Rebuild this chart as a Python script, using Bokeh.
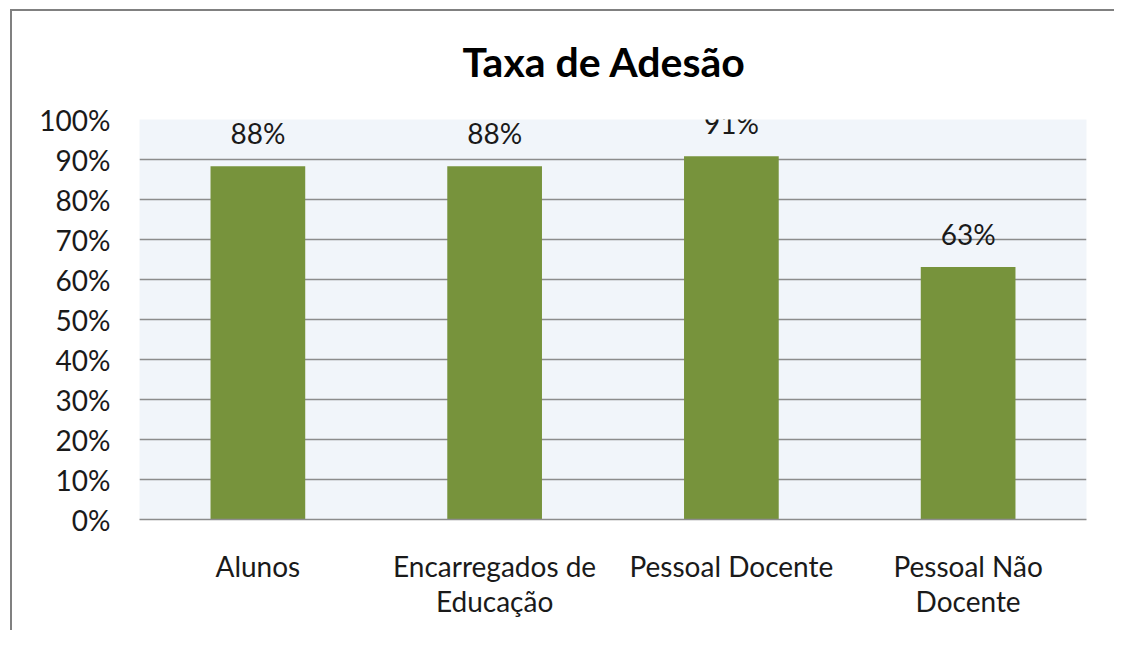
from bokeh.plotting import figure
from bokeh.models import ColumnDataSource, LabelSet, Range1d, SingleIntervalTicker, NumeralTickFormatter, InlineStyleSheet
from bokeh.core.properties import value
from bokeh.embed import file_html
from bokeh.resources import INLINE

title_text = "Taxa de Adesão"
categories = ["Alunos", "Encarregados de\nEducação", "Pessoal Docente", "Pessoal Não\nDocente"]
rates = [0.883, 0.883, 0.908, 0.631]
rate_labels = ["88%", "88%", "91%", "63%"]

FONT = "Lato"
GRID = "#8c8c8c"

src = ColumnDataSource(dict(cat=categories, rate=rates, lab=rate_labels))

p = figure(x_range=categories, y_range=Range1d(0, 1.0), width=1114, height=630,
           output_backend="svg", toolbar_location=None,
           min_border_left=139, min_border_right=28, min_border_top=119, min_border_bottom=111)

# outer chart-area border (left and top edges visible in the reference)
p.stylesheets = [InlineStyleSheet(css="""
:host { position: relative; }
:host::after {
  content: "";
  position: absolute;
  left: 10px; top: 9px; right: 0px; bottom: 0px;
  border-left: 2px solid #808080;
  border-top: 2px solid #808080;
  pointer-events: none;
}
""")]

p.x_range.range_padding = 0
p.background_fill_color = "#f1f5fa"
p.border_fill_color = "white"
p.outline_line_color = None

p.vbar(x="cat", top="rate", width=0.4, source=src, color="#77933c", line_color=None)

labels = LabelSet(x="cat", y="rate", text="lab", source=src, text_align="center",
                  text_baseline="alphabetic", y_offset=22, text_font=value(FONT),
                  text_font_size="28px", text_color="#1a1a1a", level="overlay")
p.add_layout(labels)

p.title.text = title_text
p.title.text_font = FONT
p.title.text_font_size = "41px"
p.title.text_font_style = "bold"
p.title.text_color = "#000000"
p.title.align = "left"
p.title.offset = 323
p.title.standoff = 68

p.ygrid.grid_line_color = GRID
p.ygrid.grid_line_width = 1.6
p.xgrid.grid_line_color = None

p.yaxis.ticker = SingleIntervalTicker(interval=0.1, num_minor_ticks=0)
p.yaxis.formatter = NumeralTickFormatter(format="0%")
p.yaxis.axis_line_color = None
p.yaxis.major_tick_line_color = None
p.yaxis.minor_tick_line_color = None
p.yaxis.major_tick_out = 0
p.yaxis.major_label_standoff = 29

p.xaxis.axis_line_color = GRID
p.xaxis.axis_line_width = 1.6
p.xaxis.major_tick_line_color = None
p.xaxis.major_tick_out = 0
p.xaxis.major_label_standoff = 29
p.xaxis.major_label_text_line_height = 1.05

for ax in (p.xaxis, p.yaxis):
    ax.major_label_text_font = FONT
    ax.major_label_text_font_size = "28px"
    ax.major_label_text_color = "#1a1a1a"

open("out.html", "w").write(file_html(p, INLINE))
